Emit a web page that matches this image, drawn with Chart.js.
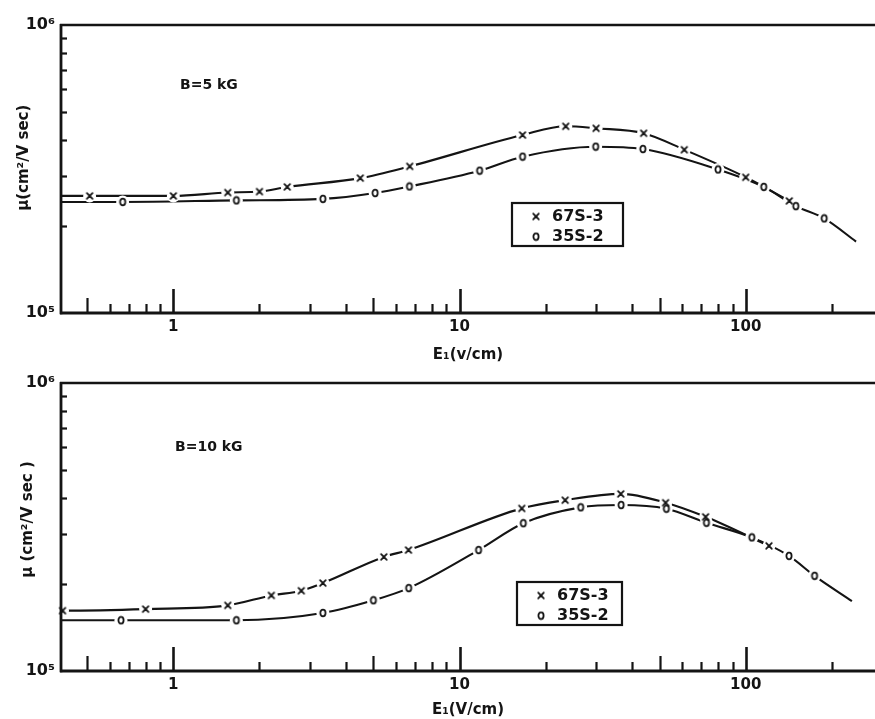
<!DOCTYPE html>
<html>
<head>
<meta charset="utf-8">
<script src="https://cdn.jsdelivr.net/npm/chart.js@4.4.1/dist/chart.umd.min.js"></script>
<style>
  html, body { margin: 0; padding: 0; background: #fff; }
  body { width: 875px; height: 719px; position: relative; overflow: hidden; }
  canvas.panel { position: absolute; left: 0; }
</style>
</head>
<body>
<canvas id="panel5" class="panel" width="875" height="372" style="top:0px"></canvas>
<canvas id="panel10" class="panel" width="875" height="355" style="top:364px"></canvas>
<script>
// Sample names and axis ticks
const seriesNames = ['67S-3', '35S-2'];
const fieldTicks = [1, 10, 100];
const fieldTickLabels = ['1', '10', '100'];
const mobilityTicks = [1e5, 1e6];
const mobilityTickLabels = ['10\u2075', '10\u2076'];

// B = 5 kG : field E (V/cm) and mobility (cm^2/V sec)
const e5_67 = [0.51, 1.0, 1.55, 2.0, 2.5, 4.5, 6.7, 16.6, 23.5, 30, 44, 61, 100, 142];
const mu5_67 = [2.55e5, 2.55e5, 2.62e5, 2.64e5, 2.74e5, 2.94e5, 3.23e5, 4.15e5, 4.45e5, 4.38e5, 4.21e5, 3.69e5, 2.96e5, 2.45e5];
const e5_35 = [0.665, 1.66, 3.33, 5.07, 6.68, 11.75, 16.6, 29.9, 43.7, 80, 115.6, 149.6, 188];
const mu5_35 = [2.43e5, 2.46e5, 2.49e5, 2.61e5, 2.75e5, 3.12e5, 3.49e5, 3.78e5, 3.71e5, 3.15e5, 2.74e5, 2.35e5, 2.13e5];
// ends of the fitted curves beyond the measured points: [E, mu]
const fit5_67Start = [0.405, 2.55e5];
const fit5_35Start = [0.405, 2.43e5];
const fit5_35End = [243, 1.77e5];

// B = 10 kG
const e10_67 = [0.41, 0.8, 1.55, 2.2, 2.8, 3.33, 5.44, 6.63, 16.5, 23.4, 36.6, 52.5, 72.4, 120.6];
const mu10_67 = [1.62e5, 1.64e5, 1.69e5, 1.83e5, 1.90e5, 2.02e5, 2.49e5, 2.63e5, 3.67e5, 3.92e5, 4.12e5, 3.84e5, 3.43e5, 2.72e5];
const e10_35 = [0.656, 1.66, 3.33, 5.0, 6.64, 11.65, 16.7, 26.5, 36.7, 52.8, 72.9, 105, 141.6, 174];
const mu10_35 = [1.50e5, 1.50e5, 1.59e5, 1.76e5, 1.94e5, 2.63e5, 3.26e5, 3.70e5, 3.77e5, 3.66e5, 3.27e5, 2.91e5, 2.51e5, 2.14e5];
const fit10_67Start = [0.405, 1.62e5];
const fit10_35Start = [0.405, 1.50e5];
const fit10_35End = [235, 1.75e5];

const INK = '#141414';
const FONT = '"DejaVu Sans", "Liberation Sans", sans-serif';

// hand-lettered style symbols used as point markers
function glyph(kind) {
  const c = document.createElement('canvas');
  c.width = 10; c.height = 10;
  const g = c.getContext('2d');
  g.strokeStyle = INK;
  g.lineWidth = 1.8;
  g.lineCap = 'round';
  g.beginPath();
  if (kind === 'x') {
    g.moveTo(2.2, 2.2); g.lineTo(7.8, 7.8);
    g.moveTo(7.8, 2.2); g.lineTo(2.2, 7.8);
  } else {
    g.ellipse(5, 5, 2.6, 3.3, 0, 0, Math.PI * 2);
  }
  g.stroke();
  return c;
}
const crossMark = glyph('x');
const ringMark = glyph('o');

const pts = (es, ms) => es.map((e, i) => ({ x: e, y: ms[i] }));

function datasets(eX, muX, eO, muO, curveX, curveO) {
  const marker = (data, style) => ({
    data, pointStyle: style, pointRadius: 5, showLine: false, clip: false, order: 0
  });
  const mask = (data) => ({
    data, pointStyle: 'circle', pointRadius: 6.5, pointBackgroundColor: '#fff',
    pointBorderWidth: 0, showLine: false, clip: false, order: 1
  });
  const curve = (data) => ({
    data, showLine: true, pointRadius: 0, borderColor: INK, borderWidth: 2.1,
    cubicInterpolationMode: 'monotone', order: 2
  });
  return [
    marker(pts(eX, muX), crossMark),
    marker(pts(eO, muO), ringMark),
    mask(pts(eX, muX)),
    mask(pts(eO, muO)),
    curve(curveX),
    curve(curveO)
  ];
}

// axis frame, inward ticks, field label and sample key
const framePlugin = {
  id: 'frame',
  afterDatasetsDraw(chart, args, o) {
    const { ctx, chartArea: a, scales: { x, y } } = chart;
    ctx.save();
    ctx.strokeStyle = INK;
    ctx.fillStyle = INK;
    const seg = (x1, y1, x2, y2, w) => {
      ctx.lineWidth = w; ctx.beginPath(); ctx.moveTo(x1, y1); ctx.lineTo(x2, y2); ctx.stroke();
    };
    [0.1, 1, 10, 100].forEach(d => {
      for (let k = 1; k <= 9; k++) {
        const v = k * d;
        if (v < x.min || v > x.max) continue;
        const px = Math.round(x.getPixelForValue(v)) + 0.5;
        const len = k === 1 ? 24 : (k === 5 ? 15 : 9);
        seg(px, a.bottom, px, a.bottom - len, k === 1 ? 2.6 : 2.2);
      }
    });
    for (let k = 2; k <= 9; k++) {
      const py = Math.round(y.getPixelForValue(k * 1e5)) + 0.5;
      seg(a.left, py, a.left + 6, py, 2.2);
    }
    seg(a.left, a.top - 1, a.left, a.bottom + 1.3, 2.8);
    seg(a.left - 1, a.bottom, a.right, a.bottom, 2.8);
    seg(a.left - 1, a.top, chart.width, a.top, 2.4);

    // field label
    ctx.font = 'bold 14px ' + FONT;
    ctx.textAlign = 'left';
    ctx.textBaseline = 'middle';
    ctx.fillText(o.label, o.labelX, o.labelY);

    // sample key
    const b = o.key;
    ctx.lineWidth = 2.2;
    ctx.strokeRect(b.x, b.y, b.w, b.h);
    ctx.font = 'bold 16px ' + FONT;
    [crossMark, ringMark].forEach((m, i) => {
      const ry = b.y + b.h * (i === 0 ? 0.29 : 0.76);
      ctx.drawImage(m, b.x + 19, ry - 4);
      ctx.fillText(seriesNames[i], b.x + 40, ry + 1);
    });
    ctx.restore();
  }
};

function options(cfg) {
  const tickFont = { family: FONT, size: 15, weight: 'bold' };
  const titleFont = { family: FONT, size: 15, weight: 'bold' };
  return {
    responsive: false,
    animation: false,
    events: [],
    layout: { autoPadding: false, padding: { top: cfg.padTop, right: 0, bottom: 0, left: 0 } },
    plugins: {
      legend: { display: false },
      tooltip: { enabled: false },
      frame: cfg.frame
    },
    scales: {
      x: {
        type: 'logarithmic', position: 'bottom', min: 0.405, max: 283,
        afterBuildTicks: s => { s.ticks = fieldTicks.map(v => ({ value: v })); },
        afterFit: s => { s.height = cfg.xHeight; s.paddingLeft = 0; s.paddingRight = 0; },
        grid: { display: false, drawTicks: false },
        border: { display: false },
        ticks: {
          autoSkip: false, maxRotation: 0, padding: 5, color: INK, font: tickFont,
          callback: (v, i) => fieldTickLabels[i]
        },
        title: {
          display: true, text: cfg.xTitle, color: INK, font: titleFont,
          padding: { top: 0, bottom: cfg.xTitlePad }
        }
      },
      y: {
        type: 'logarithmic', position: 'left', min: 1e5, max: 1e6,
        afterBuildTicks: s => { s.ticks = mobilityTicks.map(v => ({ value: v })); },
        afterFit: s => { s.width = 61; s.paddingTop = 0; s.paddingBottom = 0; },
        grid: { display: false, drawTicks: false },
        border: { display: false },
        ticks: {
          padding: 6, color: INK, font: { family: FONT, size: 16, weight: 'bold' },
          callback: (v, i) => mobilityTickLabels[i]
        },
        title: {
          display: true, text: cfg.yTitle, color: INK, font: titleFont,
          padding: { top: cfg.yTitlePad, bottom: 0 }
        }
      }
    }
  };
}

new Chart(document.getElementById('panel5'), {
  type: 'scatter',
  data: {
    datasets: datasets(e5_67, mu5_67, e5_35, mu5_35,
      [fit5_67Start, ...e5_67.map((e, i) => [e, mu5_67[i]])].map(([e, m]) => ({ x: e, y: m })),
      [fit5_35Start, ...e5_35.map((e, i) => [e, mu5_35[i]]), fit5_35End].map(([e, m]) => ({ x: e, y: m })))
  },
  options: options({
    padTop: 25, xHeight: 59, xTitlePad: 8, yTitlePad: 15,
    xTitle: 'E\u2081(v/cm)', yTitle: '\u2002\u2002\u2002\u03bc(cm\u00b2/V sec)',
    frame: { label: 'B=5 kG', labelX: 180, labelY: 85, key: { x: 512, y: 203, w: 111, h: 43 } }
  }),
  plugins: [framePlugin]
});

new Chart(document.getElementById('panel10'), {
  type: 'scatter',
  data: {
    datasets: datasets(e10_67, mu10_67, e10_35, mu10_35,
      [fit10_67Start, ...e10_67.map((e, i) => [e, mu10_67[i]])].map(([e, m]) => ({ x: e, y: m })),
      [fit10_35Start, ...e10_35.map((e, i) => [e, mu10_35[i]]), fit10_35End].map(([e, m]) => ({ x: e, y: m })))
  },
  options: options({
    padTop: 19, xHeight: 48, xTitlePad: 0, yTitlePad: 19,
    xTitle: 'E\u2081(V/cm)', yTitle: '\u2002\u2002\u03bc (cm\u00b2/V sec )',
    frame: { label: 'B=10 kG', labelX: 175, labelY: 83, key: { x: 517, y: 218, w: 105, h: 43 } }
  }),
  plugins: [framePlugin]
});
</script>
</body>
</html>
